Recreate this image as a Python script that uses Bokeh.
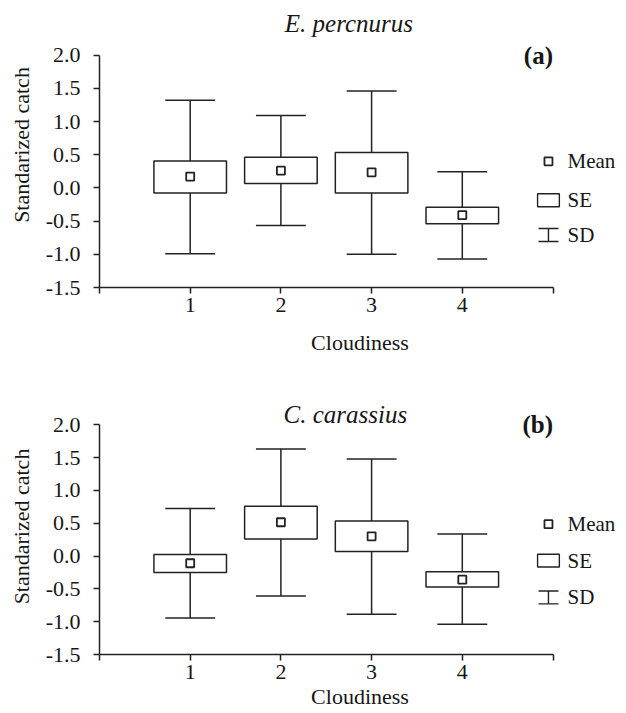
from bokeh.plotting import figure
from bokeh.layouts import column
from bokeh.models import FixedTicker, ColumnDataSource
from bokeh.core.properties import value
from bokeh.embed import file_html
from bokeh.resources import INLINE

# ---------------- data ----------------
cloudiness = [1, 2, 3, 4]
x_ticks = [0, 1, 2, 3, 4, 5]
x_tick_labels = ["", "1", "2", "3", "4", ""]
y_ticks = [-1.5, -1.0, -0.5, 0.0, 0.5, 1.0, 1.5, 2.0]
y_tick_labels = ["-1.5", "-1.0", "-0.5", "0.0", "0.5", "1.0", "1.5", "2.0"]
legend_labels = ["Mean", "SE", "SD"]

# (a) E. percnurus
a_mean = [0.17, 0.26, 0.235, -0.41]
a_se_low = [-0.077, 0.068, -0.077, -0.54]
a_se_high = [0.405, 0.46, 0.535, -0.29]
a_sd_low = [-0.99, -0.565, -1.0, -1.07]
a_sd_high = [1.32, 1.09, 1.46, 0.245]

# (b) C. carassius
b_mean = [-0.11, 0.515, 0.30, -0.36]
b_se_low = [-0.25, 0.26, 0.07, -0.47]
b_se_high = [0.023, 0.76, 0.535, -0.24]
b_sd_low = [-0.945, -0.61, -0.885, -1.04]
b_sd_high = [0.725, 1.63, 1.48, 0.335]

FONT = "Liberation Serif"
INK = "#222222"
TXT = "#161616"
W = 620
BORDER_L = 99
PX_PER_X = 90.7
PX_PER_Y = 66.4


def make_panel(species, tag, mean, se_lo, se_hi, sd_lo, sd_hi,
               height, b_top, b_bot, title_x, title_y, leg_y, xlab_standoff):
    frame_h = height - b_top - b_bot
    x_end = (W - BORDER_L) / PX_PER_X
    y_end = -1.5 + frame_h / PX_PER_Y
    p = figure(width=W, height=height, output_backend="svg", toolbar_location=None,
               x_range=(0, x_end), y_range=(-1.5, y_end),
               min_border_left=BORDER_L, min_border_right=0,
               min_border_top=b_top, min_border_bottom=b_bot)
    p.outline_line_color = None
    p.xgrid.visible = False
    p.ygrid.visible = False
    p.background_fill_color = "white"
    p.border_fill_color = "white"

    src = ColumnDataSource(dict(
        x=cloudiness, mean=mean, se_lo=se_lo, se_hi=se_hi, sd_lo=sd_lo, sd_hi=sd_hi,
        left=[c - 0.4 for c in cloudiness], right=[c + 0.4 for c in cloudiness],
        cl=[c - 0.275 for c in cloudiness], cr=[c + 0.275 for c in cloudiness],
    ))
    # whiskers
    p.segment(x0="x", y0="sd_lo", x1="x", y1="se_lo", source=src, line_color=INK, line_width=1.5)
    p.segment(x0="x", y0="se_hi", x1="x", y1="sd_hi", source=src, line_color=INK, line_width=1.5)
    # caps
    p.segment(x0="cl", y0="sd_lo", x1="cr", y1="sd_lo", source=src, line_color=INK, line_width=1.5)
    p.segment(x0="cl", y0="sd_hi", x1="cr", y1="sd_hi", source=src, line_color=INK, line_width=1.5)
    # SE box
    p.quad(left="left", right="right", bottom="se_lo", top="se_hi", source=src,
           fill_color="white", line_color=INK, line_width=1.5)
    # mean
    p.scatter(x="x", y="mean", source=src, marker="square", size=8,
              fill_color="white", line_color=INK, line_width=1.8)

    # title & tag
    p.text(x=[title_x], y=[title_y], text=[species], text_font=value(FONT),
           text_font_style="italic", text_font_size="25px", text_align="center",
           text_baseline="middle", text_color=TXT)
    p.text(x=[5.0], y=[2.0], text=[tag], text_font=value(FONT),
           text_font_style="bold", text_font_size="25px", text_align="right",
           text_baseline="middle", text_color=TXT)

    # legend (hand drawn, like the original)
    lx = 4.95
    hw = 0.12
    p.scatter(x=[lx], y=[leg_y[0]], marker="square", size=8, fill_color="white",
              line_color=INK, line_width=1.8)
    hh = 6.5 / PX_PER_Y
    p.quad(left=[lx - hw], right=[lx + hw], bottom=[leg_y[1] - hh], top=[leg_y[1] + hh],
           fill_color="white", line_color=INK, line_width=1.4)
    sh = 6.5 / PX_PER_Y
    p.segment(x0=[lx], y0=[leg_y[2] - sh], x1=[lx], y1=[leg_y[2] + sh], line_color=INK, line_width=1.4)
    p.segment(x0=[lx - 0.11, lx - 0.11], y0=[leg_y[2] - sh, leg_y[2] + sh],
              x1=[lx + 0.11, lx + 0.11], y1=[leg_y[2] - sh, leg_y[2] + sh],
              line_color=INK, line_width=1.4)
    p.text(x=[5.16] * 3, y=leg_y, text=legend_labels, text_font=value(FONT),
           text_font_size="21px", text_align="left", text_baseline="middle", text_color=TXT)

    # axes
    xa = p.xaxis[0]
    xa.ticker = FixedTicker(ticks=x_ticks)
    xa.major_label_overrides = {t: l for t, l in zip(x_ticks, x_tick_labels)}
    xa.bounds = (0, 5)
    ya = p.yaxis[0]
    ya.ticker = FixedTicker(ticks=y_ticks)
    ya.major_label_overrides = {t: l for t, l in zip(y_ticks, y_tick_labels)}
    ya.bounds = (-1.5, 2.0)
    for ax in (xa, ya):
        ax.axis_line_color = INK
        ax.axis_line_width = 1.5
        ax.major_tick_line_color = INK
        ax.major_tick_line_width = 1.5
        ax.major_tick_out = 6
        ax.major_tick_in = 0
        ax.minor_tick_line_color = None
        ax.major_label_text_font = FONT
        ax.major_label_text_font_size = "22px"
        ax.major_label_text_color = TXT
        ax.axis_label_text_font = FONT
        ax.axis_label_text_font_size = "22px"
        ax.axis_label_text_font_style = "normal"
        ax.axis_label_text_color = TXT
    xa.axis_label = "Cloudiness"
    xa.major_label_standoff = 4
    xa.axis_label_standoff = xlab_standoff
    ya.axis_label = "Standarized catch"
    ya.major_label_standoff = 13
    ya.axis_label_standoff = 9
    return p


pa = make_panel("E. percnurus", "(a)", a_mean, a_se_low, a_se_high, a_sd_low, a_sd_high,
                height=398, b_top=2, b_bot=111, title_x=2.75, title_y=2.47,
                leg_y=[0.40, -0.185, -0.71], xlab_standoff=15)
pb = make_panel("C. carassius", "(b)", b_mean, b_se_low, b_se_high, b_sd_low, b_sd_high,
                height=313, b_top=0, b_bot=54, title_x=2.71, title_y=2.16,
                leg_y=[0.485, -0.07, -0.63], xlab_standoff=2)

layout = column(pa, pb, spacing=0)
open("out.html", "w").write(file_html(layout, INLINE))
